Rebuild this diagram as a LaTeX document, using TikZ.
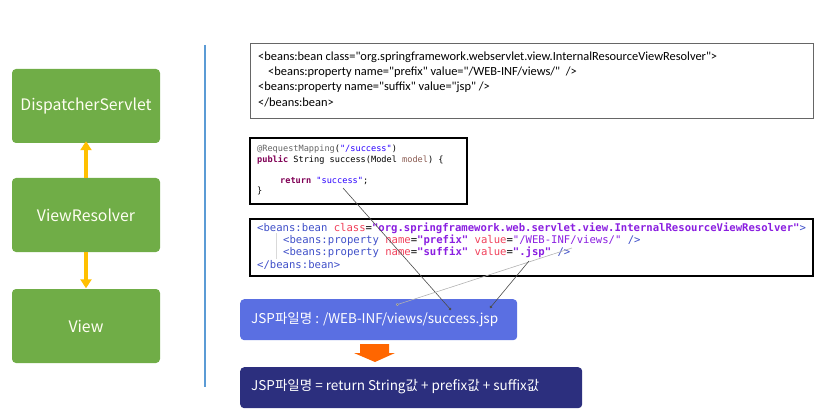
\documentclass[tikz,border=0pt]{standalone}
\usepackage{fontspec}
\setmainfont{Noto Sans CJK KR}
\newfontfamily\kr{Noto Sans CJK KR}
\newfontfamily\narrow{Carlito}
\newfontfamily\mono{DejaVu Sans Mono}
\usetikzlibrary{arrows.meta}
\definecolor{grn}{HTML}{70AD47}
\definecolor{ylw}{HTML}{FFC000}
\definecolor{sep}{HTML}{5B9BD5}
\definecolor{blu}{HTML}{5A6FE2}
\definecolor{navy}{HTML}{2C2F7E}
\definecolor{orng}{HTML}{FF6600}
\definecolor{tagc}{HTML}{3F4FC8}
\definecolor{attc}{HTML}{F0405A}
\definecolor{valc}{HTML}{8A1EE0}
\definecolor{annc}{HTML}{646464}
\definecolor{strc}{HTML}{2A00FF}
\definecolor{kwc}{HTML}{7F0055}
\definecolor{varc}{HTML}{8A5A50}
\tikzset{
  greenbox/.style={draw=none,fill=grn,rounded corners=4pt,minimum width=148pt,minimum height=74pt,text=white!95!yellow,font=\kr\fontsize{15.8}{17}\selectfont,inner sep=0pt},
  yarrow/.style={draw=ylw,line width=3.4pt,-{Triangle[length=9pt,width=11pt]}},
  codeline/.style={anchor=west,inner sep=0pt},
  plain/.style={codeline,font=\narrow\fontsize{12.4}{14}\selectfont},
  codeA/.style={codeline,font=\mono\fontsize{8.6}{10}\selectfont},
  codeB/.style={codeline,font=\mono\fontsize{10.6}{12}\selectfont},
  linkdark/.style={draw=black!70,line width=0.6pt,-{Circle[length=2.8pt]}},
  linklight/.style={draw=black!30,line width=0.6pt,-{Circle[length=2.8pt,fill=black!70]}},
  resbox/.style={rounded corners=4pt,inner sep=0pt,anchor=north west},
  restext/.style={anchor=west,inner sep=0pt,text=white,font=\kr\fontsize{13.5}{15}\selectfont}
}
\begin{document}
\begin{tikzpicture}[x=1pt,y=-1pt]
\useasboundingbox (0,0) rectangle (817,417);
% left column
\node[greenbox] (ds) at (86,106) {DispatcherServlet};
\node[greenbox] (vr) at (86,215) {ViewResolver};
\node[greenbox] (vw) at (86,326) {View};
\draw[yarrow] (vr.north) -- ([yshift=2pt]ds.south);
\draw[yarrow] (vr.south) -- ([yshift=0.5pt]vw.north);
% separator
\coordinate (s1) at (205,45);
\coordinate (s2) at (205,387);
\draw[draw=sep,line width=1.2pt] (s1) -- (s2);
% top plain box
\node[draw=black!60,line width=0.8pt,anchor=north west,minimum width=563pt,minimum height=75pt,inner sep=0pt] (top) at (250,43) {};
\node[plain] (t1) at (258,57) {<beans:bean class="org.springframework.webservlet.view.InternalResourceViewResolver">};
\node[plain] (t2) at (268,72) {<beans:property name="prefix" value="/WEB-INF/views/"~~/>};
\node[plain] (t3) at (258,87) {<beans:property name="suffix" value="jsp" />};
\node[plain] (t4) at (258,102) {</beans:bean>};
% code box 1
\node[draw=black,line width=1.8pt,anchor=north west,minimum width=217pt,minimum height=66pt,inner sep=0pt] (cb1) at (249,137) {};
\node[codeA] (a1) at (257,149) {\textcolor{annc}{@RequestMapping}(\textcolor{strc}{"/success"})};
\node[codeA] (a2) at (257,160) {\textcolor{kwc}{\bfseries public} String success(Model \textcolor{varc}{model}) \{};
\node[codeA] (a3) at (280,181) {\textcolor{kwc}{\bfseries return} \textcolor{strc}{"success"};};
\node[codeA] (a4) at (257,191) {\}};
% code box 2
\node[draw=black,line width=1.8pt,anchor=north west,minimum width=563pt,minimum height=57pt,inner sep=0pt] (cb2) at (249,218) {};
\coordinate (g1) at (276,233);
\coordinate (g2) at (276,259);
\draw[black!15,line width=0.5pt] (g1) -- (g2);
\node[codeB] (b1) at (257,228) {\textcolor{tagc}{<beans:bean} \textcolor{attc}{class}=\textcolor{valc}{\bfseries"org.springframework.web.servlet.view.InternalResourceViewResolver"}\textcolor{tagc}{>}};
\node[codeB] (b2) at (283,240) {\textcolor{tagc}{<beans:property} \textcolor{attc}{name}=\textcolor{valc}{\bfseries"prefix"} \textcolor{attc}{value}=\textcolor{valc}{"/WEB-INF/views/"} \textcolor{tagc}{/>}};
\node[codeB] (b3) at (283,252) {\textcolor{tagc}{<beans:property} \textcolor{attc}{name}=\textcolor{valc}{\bfseries"suffix"} \textcolor{attc}{value}=\textcolor{valc}{\bfseries".jsp"} \textcolor{tagc}{/>}};
\node[codeB] (b4) at (257,265) {\textcolor{tagc}{</beans:bean>}};
% result boxes
\node[resbox,fill=blu,minimum width=277pt,minimum height=41pt] (r1) at (240,299) {};
\node[restext] (r1t) at (251,320) {JSP파일명 : /WEB-INF/views/success.jsp};
\node[resbox,fill=navy,minimum width=342pt,minimum height=41pt] (r2) at (240,367) {};
\node[restext] (r2t) at (251,387) {JSP파일명 = return String값 + prefix값 + suffix값};
% orange arrow
\fill[orng] (360,344) -- (389,344) -- (389,353) -- (395,353) -- (375,362) -- (354,353) -- (360,353) -- cycle;
% connectors
\coordinate (c1s) at (343,188);
\coordinate (c1e) at (451,310);
\coordinate (c2s) at (572,248);
\coordinate (c2e) at (396,305);
\coordinate (c3s) at (529,261);
\coordinate (c3e) at (490,308);
\draw[linkdark] (c1s) -- (c1e);
\draw[linklight] (c2s) -- (c2e);
\draw[linkdark] (c3s) -- (c3e);
\end{tikzpicture}
\end{document}
